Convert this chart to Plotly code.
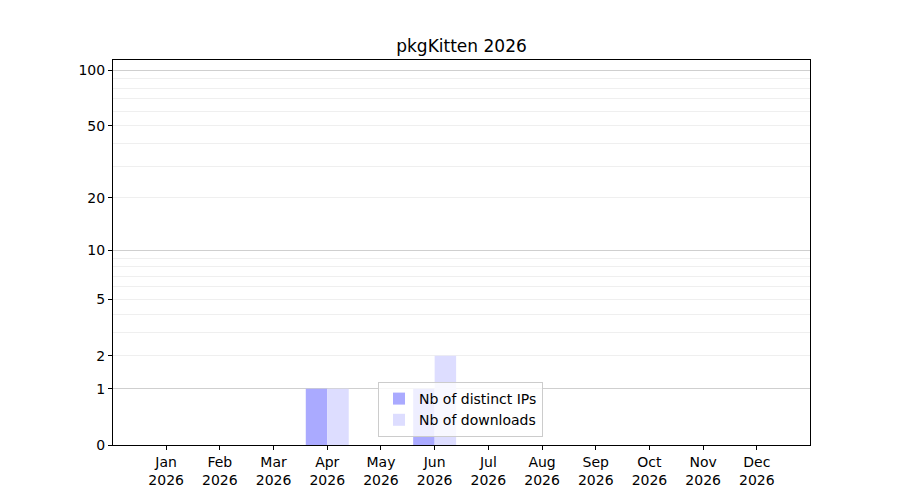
import math
import plotly.graph_objects as go

months = ["Jan", "Feb", "Mar", "Apr", "May", "Jun", "Jul", "Aug", "Sep", "Oct", "Nov", "Dec"]
year = "2026"
distinct_ips = [0, 0, 0, 1, 0, 1, 0, 0, 0, 0, 0, 0]
downloads = [0, 0, 0, 1, 0, 2, 0, 0, 0, 0, 0, 0]
y_tick_values = [0, 1, 2, 5, 10, 20, 50, 100]
y_major_grid = [1, 10, 100]
y_minor_grid = [2, 3, 4, 5, 6, 7, 8, 9, 20, 30, 40, 50, 60, 70, 80, 90]
y_top = 113.5


def tf(v):
    return math.log10(1 + v)


idx = list(range(len(months)))
fig = go.Figure()
fig.add_trace(go.Bar(
    x=[i - 0.2 for i in idx], y=[tf(v) for v in distinct_ips], width=0.4,
    marker=dict(color="#aaaaff", line=dict(width=0)), name="Nb of distinct IPs",
    customdata=distinct_ips, hovertemplate="%{customdata}<extra></extra>",
))
fig.add_trace(go.Bar(
    x=[i + 0.2 for i in idx], y=[tf(v) for v in downloads], width=0.4,
    marker=dict(color="#ddddff", line=dict(width=0)), name="Nb of downloads",
    customdata=downloads, hovertemplate="%{customdata}<extra></extra>",
))
# invisible trace to activate the grid axis
fig.add_trace(go.Scatter(x=[None], y=[None], yaxis="y2", showlegend=False, hoverinfo="skip"))

font = dict(family="DejaVu Sans", size=14, color="black")
fig.update_layout(
    width=900, height=500,
    margin=dict(l=105, r=98, t=52, b=63),
    paper_bgcolor="white", plot_bgcolor="white",
    font=font,
    barmode="overlay",
    title=dict(text="pkgKitten 2026", x=(105 + 802) / 2 / 900, xanchor="center",
               y=1 - 38 / 500, yanchor="middle", font=dict(family="DejaVu Sans", size=17, color="black")),
    xaxis=dict(
        range=[-0.99, 11.99], tickmode="array", tickvals=idx,
        ticktext=[f"{m}<br>{year}" for m in months],
        showgrid=False, zeroline=False, showline=True, linecolor="black", linewidth=1,
        mirror=True, ticks="outside", ticklen=4, tickcolor="black",
    ),
    yaxis=dict(
        range=[0, tf(y_top)], tickmode="array", tickvals=[tf(v) for v in y_tick_values],
        ticktext=[str(v) for v in y_tick_values],
        showgrid=False, zeroline=False, showline=True, linecolor="black", linewidth=1,
        mirror=True, ticks="outside", ticklen=4, tickcolor="black",
        minor=dict(tickmode="array", tickvals=[tf(v) for v in y_minor_grid], showgrid=True,
                   gridcolor="#efefef", gridwidth=1, ticks=""),
    ),
    yaxis2=dict(
        range=[0, tf(y_top)], overlaying="y", side="left", tickmode="array",
        tickvals=[tf(v) for v in y_major_grid], showticklabels=False, ticks="",
        showgrid=True, gridcolor="#cfcfcf", gridwidth=1, zeroline=False, showline=False,
    ),
    legend=dict(
        x=(378 - 113) / 697, y=(445 - 437) / 385, xanchor="left", yanchor="bottom",
        bgcolor="rgba(255,255,255,0.8)", bordercolor="#cccccc", borderwidth=1,
        font=dict(family="DejaVu Sans", size=14, color="black"),
        tracegroupgap=0,
    ),
)
fig.write_html("out.html")
